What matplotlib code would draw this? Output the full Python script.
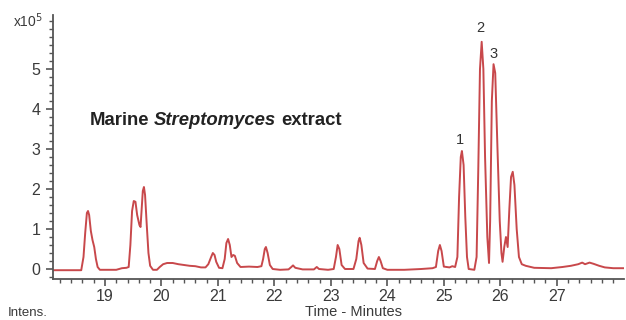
import matplotlib
matplotlib.use("Agg")
import matplotlib.pyplot as plt
from matplotlib.ticker import MultipleLocator

# ---- data ----
time_min = [18.08, 18.58, 18.62, 18.65, 18.68, 18.70, 18.72, 18.75, 18.78, 18.81, 18.84, 18.87, 18.91,
            19.20, 19.30, 19.38, 19.42, 19.45, 19.48, 19.51, 19.54, 19.57, 19.61, 19.63, 19.65, 19.67,
            19.69, 19.71, 19.74, 19.77, 19.80, 19.85, 19.92, 19.97, 20.03, 20.10, 20.20, 20.30, 20.40,
            20.50, 20.60, 20.70, 20.78, 20.83, 20.88, 20.91, 20.94, 20.97, 21.02, 21.08, 21.12, 21.15,
            21.18, 21.21, 21.24, 21.27, 21.30, 21.34, 21.40, 21.55, 21.70, 21.77, 21.80, 21.83, 21.85,
            21.88, 21.92, 21.97, 22.10, 22.25, 22.30, 22.33, 22.37, 22.50, 22.70, 22.75, 22.79, 22.95,
            23.05, 23.09, 23.12, 23.15, 23.19, 23.25, 23.40, 23.45, 23.49, 23.51, 23.54, 23.58, 23.65,
            23.78, 23.82, 23.85, 23.88, 23.92, 24.00, 24.30, 24.60, 24.80, 24.86, 24.90, 24.93, 24.96,
            25.00, 25.10, 25.15, 25.20, 25.24, 25.27, 25.30, 25.32, 25.35, 25.38, 25.41, 25.44, 25.54,
            25.58, 25.61, 25.64, 25.67, 25.70, 25.73, 25.77, 25.80, 25.82, 25.85, 25.88, 25.91, 25.95,
            25.99, 26.02, 26.04, 26.07, 26.10, 26.13, 26.16, 26.19, 26.22, 26.25, 26.29, 26.33, 26.38,
            26.45, 26.60, 26.90, 27.10, 27.25, 27.38, 27.45, 27.50, 27.58, 27.65, 27.75, 27.85, 28.00,
            28.19]
intensity_e5 = [-0.03, -0.03, 0.30, 0.90, 1.40, 1.45, 1.35, 0.95, 0.72, 0.55, 0.25, 0.05, -0.02,
                -0.02, 0.02, 0.03, 0.05, 0.60, 1.45, 1.70, 1.68, 1.35, 1.10, 1.05, 1.50, 1.95,
                2.05, 1.85, 1.10, 0.40, 0.08, -0.02, -0.02, 0.05, 0.12, 0.15, 0.15, 0.12, 0.10,
                0.08, 0.07, 0.04, 0.04, 0.12, 0.30, 0.40, 0.35, 0.18, 0.03, 0.02, 0.25, 0.65,
                0.75, 0.60, 0.30, 0.35, 0.33, 0.15, 0.05, 0.06, 0.05, 0.07, 0.25, 0.50, 0.55,
                0.40, 0.10, 0.00, -0.02, -0.01, 0.05, 0.09, 0.03, -0.01, -0.01, 0.05, 0.00, -0.02,
                0.00, 0.30, 0.60, 0.50, 0.10, 0.00, 0.00, 0.25, 0.70, 0.78, 0.60, 0.15, 0.01,
                0.00, 0.20, 0.30, 0.20, 0.02, -0.02, -0.02, 0.00, 0.02, 0.05, 0.45, 0.60, 0.45,
                0.06, 0.04, 0.07, 0.05, 0.30, 1.80, 2.80, 2.95, 2.60, 1.30, 0.30, 0.00, -0.02,
                0.30, 2.50, 5.00, 5.68, 5.00, 2.80, 0.80, 0.15, 1.20, 4.20, 5.12, 4.90, 3.00,
                1.20, 0.40, 0.18, 0.55, 0.80, 0.55, 1.50, 2.30, 2.43, 2.10, 1.00, 0.30, 0.12,
                0.08, 0.03, 0.02, 0.05, 0.08, 0.12, 0.16, 0.12, 0.16, 0.13, 0.08, 0.04, 0.02,
                0.02]

peak_labels = ["1", "2", "3"]
peak_label_time = [25.28, 25.65, 25.88]
peak_label_int = [3.22, 6.02, 5.37]

x_ticks = [19, 20, 21, 22, 23, 24, 25, 26, 27]
y_ticks = [0, 1, 2, 3, 4, 5]

W, H = 626, 320
fig = plt.figure(figsize=(W / 100, H / 100), dpi=100)
FONT = "Liberation Sans"
plt.rcParams["font.family"] = [FONT, "DejaVu Sans"]

ax = fig.add_axes([53 / W, 1 - 279 / H, (624 - 53) / W, (279 - 15) / H])
ax.plot(time_min, intensity_e5, color="#c8484b", lw=1.4, solid_joinstyle="round")

ax.set_xlim(18.08, 28.19)
ax.set_ylim(-0.25, 6.35)

for s in ["top", "right"]:
    ax.spines[s].set_visible(False)
for s in ["left", "bottom"]:
    ax.spines[s].set_color("#555555")
    ax.spines[s].set_linewidth(1.3)

ax.set_xticks(x_ticks)
ax.set_yticks(y_ticks)
ax.xaxis.set_minor_locator(MultipleLocator(0.2))
ax.yaxis.set_minor_locator(MultipleLocator(0.2))
ax.tick_params(axis="both", which="major", length=5, width=1.2, color="#555555",
               labelsize=11.5, labelcolor="#3a3a3a")
ax.tick_params(axis="both", which="minor", length=3, width=1.0, color="#555555")
ax.tick_params(axis="x", which="major", pad=2)
ax.tick_params(axis="y", which="major", pad=4)

for lab, t, v in zip(peak_labels, peak_label_time, peak_label_int):
    ax.text(t, v, lab, ha="center", va="center", fontsize=10.5, color="#333333")

# title made of three parts
TS = 13.3
t1 = ax.text(18.73, 3.72, "Marine", fontsize=TS, fontweight="bold", color="#222222",
             va="center", ha="left")
t2 = ax.annotate("Streptomyces", xy=(1, 0), xycoords=t1, xytext=(3.6, 0),
                 textcoords="offset points", fontsize=TS, fontweight="bold",
                 fontstyle="italic", color="#222222", va="bottom", ha="left")
t3 = ax.annotate("extract", xy=(1, 0), xycoords=t2, xytext=(3.6, 0),
                 textcoords="offset points", fontsize=TS, fontweight="bold",
                 color="#222222", va="bottom", ha="left")

fig.text(13 / W, 1 - 27 / H, r"x10$^5$", fontsize=10, color="#3a3a3a", ha="left", va="baseline")
fig.text(8 / W, 1 - 319 / H, "Intens.", fontsize=9.5, color="#3a3a3a", ha="left", va="bottom")
fig.text(353 / W, 1 - 305 / H, "Time - Minutes", fontsize=10.5, color="#3a3a3a", ha="center", va="top")

fig.savefig("out.png", dpi=100)
